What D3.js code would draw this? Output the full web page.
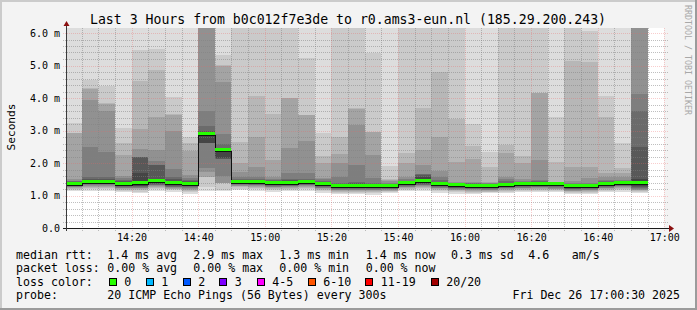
<!DOCTYPE html>
<html>
<head>
<meta charset="utf-8">
<script src="https://cdn.jsdelivr.net/npm/d3@7"></script>
<style>
	body { margin: 0; background: #f3f3f3; }
	svg { display: block; font-family: "DejaVu Sans Mono", monospace; }
</style>
</head>
<body>
<svg id="chart" width="697" height="310"></svg>
<script>
const title = "Last 3 Hours from b0c012f7e3de to r0.ams3-eun.nl (185.29.200.243)";

// start of each 5 minute step
const slots = [
	"14:00", "14:05", "14:10", "14:15", "14:20", "14:25", "14:30", "14:35", "14:40", "14:45",
	"14:50", "14:55", "15:00", "15:05", "15:10", "15:15", "15:20", "15:25", "15:30", "15:35",
	"15:40", "15:45", "15:50", "15:55", "16:00", "16:05", "16:10", "16:15", "16:20", "16:25",
	"16:30", "16:35", "16:40", "16:45", "16:50",
];

// median rtt per step (ms)
const median = [
	1.36, 1.42, 1.42, 1.35, 1.38, 1.45, 1.37, 1.36, 2.9, 2.4,
	1.43, 1.42, 1.38, 1.39, 1.42, 1.35, 1.29, 1.29, 1.29, 1.29,
	1.38, 1.45, 1.35, 1.31, 1.3, 1.28, 1.33, 1.35, 1.35, 1.35,
	1.28, 1.29, 1.35, 1.39, 1.39,
];

// lost pings per step
const loss = [
	0, 0, 0, 0, 0, 0, 0, 0, 0, 0, 0, 0, 0, 0, 0, 0, 0, 0,
	0, 0, 0, 0, 0, 0, 0, 0, 0, 0, 0, 0, 0, 0, 0, 0, 0,
];

// the 20 sorted ping times of each step (ms), the smoke
const pings = [
	[1.13, 1.17, 1.2, 1.23, 1.25, 1.27, 1.29, 1.31, 1.32, 1.34, 1.38, 1.4, 1.42, 1.44, 1.46, 1.5, 2.92, 2.93, 3.22, 8],
	[1.13, 1.2, 1.24, 1.27, 1.3, 1.32, 1.34, 1.36, 1.38, 1.4, 1.44, 1.48, 1.52, 1.58, 2.5, 3.94, 4.28, 4.3, 4.55, 8],
	[1.14, 1.19, 1.23, 1.26, 1.29, 1.32, 1.34, 1.36, 1.38, 1.4, 1.44, 1.47, 1.51, 1.58, 2.35, 3.6, 3.82, 3.84, 4.38, 8],
	[1.1, 1.14, 1.17, 1.2, 1.22, 1.24, 1.26, 1.28, 1.3, 1.32, 1.38, 1.41, 1.44, 1.48, 1.53, 1.6, 2.25, 2.61, 3.07, 8],
	[1.08, 1.12, 1.17, 1.2, 1.22, 1.24, 1.26, 1.28, 1.3, 1.32, 1.44, 1.68, 2.17, 2.18, 2.19, 2.42, 3.04, 4.52, 5.48, 8],
	[1.15, 1.2, 1.24, 1.27, 1.29, 1.31, 1.33, 1.35, 1.38, 1.42, 1.48, 1.5, 1.93, 1.94, 2.07, 2.4, 3.43, 4.86, 5.51, 8],
	[1.12, 1.16, 1.19, 1.21, 1.23, 1.25, 1.27, 1.29, 1.31, 1.34, 1.4, 1.45, 1.5, 1.56, 1.82, 2.98, 3.49, 3.5, 4.04, 8],
	[1.05, 1.11, 1.15, 1.18, 1.21, 1.23, 1.26, 1.28, 1.31, 1.34, 1.38, 1.41, 1.44, 1.48, 1.55, 1.63, 2.38, 2.61, 2.79, 8],
	[1.15, 1.27, 1.56, 1.58, 1.71, 1.84, 2.61, 2.62, 2.63, 2.87, 2.93, 2.96, 3.0, 3.14, 3.61, 8, 8, 8, 8, 8],
	[1.15, 1.17, 1.38, 1.39, 1.4, 1.6, 2.12, 2.13, 2.14, 2.38, 2.42, 2.43, 2.45, 2.57, 2.89, 4.5, 5.0, 5.02, 5.32, 8],
	[1.16, 1.21, 1.25, 1.28, 1.3, 1.32, 1.34, 1.36, 1.38, 1.41, 1.45, 1.47, 1.49, 1.52, 1.58, 1.73, 1.99, 2.66, 8, 8],
	[1.15, 1.2, 1.24, 1.27, 1.29, 1.31, 1.33, 1.35, 1.37, 1.4, 1.44, 1.46, 1.49, 1.52, 1.58, 1.89, 2.81, 4.06, 8, 8],
	[1.12, 1.17, 1.2, 1.23, 1.25, 1.27, 1.29, 1.31, 1.33, 1.36, 1.4, 1.42, 1.45, 1.48, 1.52, 1.58, 2.09, 3.51, 8, 8],
	[1.13, 1.18, 1.21, 1.24, 1.26, 1.28, 1.3, 1.32, 1.34, 1.37, 1.41, 1.44, 1.47, 1.5, 1.69, 2.46, 3.99, 4.0, 8, 8],
	[1.14, 1.2, 1.24, 1.27, 1.29, 1.31, 1.33, 1.35, 1.37, 1.4, 1.44, 1.46, 1.48, 1.5, 1.7, 2.68, 3.48, 3.49, 5.22, 8],
	[1.09, 1.14, 1.17, 1.2, 1.22, 1.24, 1.26, 1.28, 1.3, 1.33, 1.37, 1.38, 1.41, 1.45, 1.5, 1.55, 1.99, 2.22, 2.93, 8],
	[1.05, 1.09, 1.12, 1.14, 1.16, 1.18, 1.2, 1.22, 1.24, 1.27, 1.31, 1.33, 1.35, 1.38, 1.58, 2.0, 2.28, 2.79, 8, 8],
	[1.06, 1.09, 1.12, 1.14, 1.16, 1.18, 1.2, 1.22, 1.24, 1.27, 1.31, 1.34, 1.38, 1.43, 1.94, 3.17, 3.67, 3.68, 8, 8],
	[1.02, 1.07, 1.11, 1.14, 1.16, 1.18, 1.2, 1.22, 1.24, 1.27, 1.31, 1.33, 1.35, 1.37, 1.53, 2.25, 2.95, 2.96, 5.39, 8],
	[1.07, 1.1, 1.13, 1.15, 1.17, 1.19, 1.21, 1.23, 1.25, 1.27, 1.31, 1.32, 1.34, 1.36, 1.4, 1.45, 1.49, 1.5, 1.92, 8],
	[1.13, 1.17, 1.2, 1.23, 1.25, 1.27, 1.29, 1.31, 1.33, 1.36, 1.4, 1.42, 1.44, 1.46, 1.5, 1.56, 2.0, 2.32, 8, 8],
	[1.14, 1.2, 1.24, 1.27, 1.29, 1.31, 1.33, 1.35, 1.38, 1.42, 1.48, 1.56, 1.64, 1.65, 1.66, 1.94, 2.4, 3.68, 8, 8],
	[1.09, 1.14, 1.17, 1.2, 1.22, 1.24, 1.26, 1.28, 1.3, 1.33, 1.37, 1.4, 1.43, 1.47, 1.58, 1.76, 2.81, 4.79, 8, 8],
	[1.06, 1.1, 1.13, 1.16, 1.18, 1.2, 1.22, 1.24, 1.26, 1.29, 1.33, 1.34, 1.36, 1.38, 1.4, 1.43, 2.04, 3.35, 8, 8],
	[1.05, 1.09, 1.12, 1.15, 1.17, 1.19, 1.21, 1.23, 1.25, 1.28, 1.32, 1.33, 1.35, 1.37, 1.4, 1.43, 2.11, 2.52, 3.2, 8],
	[1.07, 1.1, 1.12, 1.14, 1.16, 1.18, 1.2, 1.22, 1.24, 1.26, 1.3, 1.31, 1.33, 1.35, 1.37, 1.4, 1.43, 1.89, 2.35, 8],
	[1.08, 1.12, 1.15, 1.18, 1.2, 1.22, 1.24, 1.26, 1.28, 1.31, 1.35, 1.37, 1.4, 1.44, 1.5, 1.56, 2.32, 2.55, 8, 8],
	[1.1, 1.14, 1.17, 1.2, 1.22, 1.24, 1.26, 1.28, 1.3, 1.33, 1.37, 1.38, 1.4, 1.42, 1.45, 1.5, 2.01, 2.22, 8, 8],
	[1.1, 1.14, 1.18, 1.21, 1.23, 1.25, 1.27, 1.29, 1.31, 1.33, 1.37, 1.39, 1.41, 1.44, 1.48, 2.09, 4.15, 4.16, 8, 8],
	[1.1, 1.13, 1.16, 1.19, 1.21, 1.23, 1.26, 1.28, 1.31, 1.34, 1.36, 1.37, 1.38, 1.39, 1.4, 1.41, 1.43, 2.04, 3.41, 8],
	[1.04, 1.08, 1.11, 1.13, 1.15, 1.17, 1.19, 1.21, 1.23, 1.26, 1.3, 1.31, 1.33, 1.36, 1.4, 1.45, 1.89, 5.15, 8, 8],
	[1.05, 1.09, 1.12, 1.14, 1.16, 1.18, 1.2, 1.22, 1.24, 1.27, 1.3, 1.31, 1.33, 1.35, 1.38, 1.54, 1.89, 5.12, 6.07, 8],
	[1.1, 1.14, 1.17, 1.2, 1.22, 1.24, 1.26, 1.28, 1.3, 1.33, 1.37, 1.39, 1.41, 1.44, 1.48, 1.56, 1.7, 3.43, 4.06, 8],
	[1.12, 1.17, 1.21, 1.24, 1.26, 1.28, 1.3, 1.32, 1.34, 1.38, 1.4, 1.41, 1.43, 1.45, 1.48, 1.56, 1.68, 1.86, 2.63, 8],
	[1.09, 1.12, 1.14, 1.16, 1.18, 1.2, 1.22, 1.25, 1.3, 1.36, 1.42, 1.5, 2.5, 3.61, 4.12, 8, 8, 8, 8, 8],
];

const yTicks = [0, 1, 2, 3, 4, 5, 6];

const lossLabels = ["0", "1", "2", "3", "4-5", "6-10", "11-19", "20/20"];
const lossColors = ["#26ff00", "#00b8ff", "#0059ff", "#7e00ff", "#ff00ff", "#ff5500", "#ff0000", "#a10000"];

const medianStats = ["1.4 ms avg", "2.9 ms max", "1.3 ms min", "1.4 ms now", "0.3 ms sd", "4.6", "am/s"];
const lossStats = ["0.00 % avg", "0.00 % max", "0.00 % min", "0.00 % now"];
const probeText = "20 ICMP Echo Pings (56 Bytes) every 300s";
const stamp = "Fri Dec 26 17:00:30 2025";

const svg = d3.select("#chart");
const width = +svg.attr("width");
const height = +svg.attr("height");

const parseSlot = (s) => {
	const [h, m] = s.split(":").map(Number);
	return new Date(Date.UTC(2025, 11, 26, h, m));
};
const times = slots.map(parseSlot);
const tStart = parseSlot("14:00");
const tEnd = parseSlot("17:00");

const plot = { left: 67, right: 664, top: 28, bottom: 228 };

const x = d3.scaleUtc().domain([tStart, tEnd]).range([65, 664.3]);
const y = d3.scaleLinear().domain([0, 6]).range([228, 33]);
const px = (d) => Math.round(x(d));
const py = (v) => Math.round(y(v));

// background + 3d frame
svg.append("rect").attr("width", width).attr("height", height).attr("fill", "#f3f3f3");
svg.append("path").attr("d", `M0,${height} V0 H${width}`).attr("stroke", "#cbcbcb").attr("stroke-width", 4).attr("fill", "none");
svg.append("path").attr("d", `M0,${height} H${width} V0`).attr("stroke", "#9b9b9b").attr("stroke-width", 4).attr("fill", "none");

svg.append("rect")
	.attr("x", plot.left).attr("y", plot.top)
	.attr("width", plot.right - plot.left).attr("height", plot.bottom - plot.top)
	.attr("fill", "#ffffff");

svg.append("clipPath").attr("id", "plotclip")
	.append("rect")
	.attr("x", plot.left).attr("y", plot.top)
	.attr("width", plot.right - plot.left).attr("height", plot.bottom - plot.top);

// smoke: band k goes from ping k to ping 21-k, darker towards the middle
const half = 10;
const smokeColor = (k) => {
	const c = Math.floor((190 / half) * (half - k)) + 50;
	return d3.rgb(c, c, c).formatHex();
};

const smoke = svg.append("g").attr("clip-path", "url(#plotclip)").attr("shape-rendering", "crispEdges");
times.forEach((t, i) => {
	const x0 = px(t);
	const x1 = px(d3.utcMinute.offset(t, 5));
	for (let k = 1; k <= half; k++) {
		const lo = pings[i][k - 1];
		const hi = pings[i][20 - k];
		smoke.append("rect")
			.attr("x", x0).attr("width", x1 - x0)
			.attr("y", py(hi)).attr("height", Math.max(0, py(lo) - py(hi)))
			.attr("fill", smokeColor(k));
	}
});

// grid
const grid = svg.append("g").attr("shape-rendering", "crispEdges").attr("stroke-dasharray", "1,1");
const minorY = y.ticks(30).filter((v) => v > 0 && Math.abs(v - Math.round(v)) > 1e-6);
const majorY = yTicks.filter((v) => v > 0);
const fiveMin = x.ticks(d3.utcMinute.every(5)).filter((d) => d > tStart);
const minorX = fiveMin.filter((d) => d.getUTCMinutes() % 20 !== 0);
const majorX = fiveMin.filter((d) => d.getUTCMinutes() % 20 === 0);
const minorStroke = "rgba(128,128,128,0.5)";
const majorStroke = "rgba(235,100,100,0.32)";

grid.selectAll(".hminor").data(minorY).join("line")
	.attr("x1", plot.left - 4).attr("x2", plot.right + 5)
	.attr("y1", (v) => py(v) + 0.5).attr("y2", (v) => py(v) + 0.5)
	.attr("stroke", minorStroke);
grid.selectAll(".vminor").data(minorX).join("line")
	.attr("x1", (d) => px(d) + 0.5).attr("x2", (d) => px(d) + 0.5)
	.attr("y1", plot.top).attr("y2", plot.bottom + 3)
	.attr("stroke", minorStroke);
grid.selectAll(".hmajor").data(majorY).join("line")
	.attr("x1", plot.left - 4).attr("x2", plot.right + 5)
	.attr("y1", (v) => py(v) + 0.5).attr("y2", (v) => py(v) + 0.5)
	.attr("stroke", majorStroke);
grid.selectAll(".vmajor").data(majorX).join("line")
	.attr("x1", (d) => px(d) + 0.5).attr("x2", (d) => px(d) + 0.5)
	.attr("y1", plot.top).attr("y2", plot.bottom + 3)
	.attr("stroke", majorStroke);

// median: dark step line and loss coloured bar on top
const stepPts = times.map((t, i) => [px(t), py(median[i]) + 1.5]);
stepPts.push([px(d3.utcMinute.offset(times[times.length - 1], 5)), py(median[median.length - 1]) + 1.5]);
svg.append("path")
	.attr("clip-path", "url(#plotclip)")
	.attr("d", d3.line().curve(d3.curveStepAfter)(stepPts))
	.attr("fill", "none").attr("stroke", "#101010").attr("stroke-width", 1)
	.attr("shape-rendering", "crispEdges");

svg.append("g").attr("clip-path", "url(#plotclip)").attr("shape-rendering", "crispEdges")
	.selectAll("rect").data(times).join("rect")
	.attr("x", (t) => px(t))
	.attr("width", (t) => px(d3.utcMinute.offset(t, 5)) - px(t))
	.attr("y", (t, i) => py(median[i]) - 2)
	.attr("height", 3)
	.attr("fill", (t, i) => lossColors[loss[i]]);

// axes
svg.append("path")
	.attr("d", `M${plot.left - 0.5 - 4},${plot.bottom + 0.5} H${plot.right + 6}`)
	.attr("stroke", "#1a1a1a").attr("shape-rendering", "crispEdges");
svg.append("path")
	.attr("d", `M${plot.left - 0.5},${plot.bottom + 3} V${plot.top - 5}`)
	.attr("stroke", "#3a3a3a").attr("shape-rendering", "crispEdges");
svg.append("path")
	.attr("d", `M${plot.right + 5},${plot.bottom - 3} L${plot.right + 10},${plot.bottom + 0.5} L${plot.right + 5},${plot.bottom + 4} Z`)
	.attr("fill", "#8b1010");
svg.append("path")
	.attr("d", `M${plot.left - 3.5},${plot.top - 2} L${plot.left - 0.5},${plot.top - 7} L${plot.left + 2.5},${plot.top - 2} Z`)
	.attr("fill", "#8b1010");

const yAxis = svg.append("g")
	.attr("transform", `translate(${plot.left},0)`)
	.call(d3.axisLeft(y).tickValues(yTicks).tickSize(0).tickPadding(7)
		.tickFormat((v) => (v === 0 ? "0.0" : `${v.toFixed(1)} m`)));
yAxis.select(".domain").remove();
yAxis.selectAll("text").attr("font-family", "DejaVu Sans Mono").attr("font-size", 10).attr("fill", "#000");

const xAxis = svg.append("g")
	.attr("transform", `translate(0,${plot.bottom})`)
	.call(d3.axisBottom(x).tickValues(majorX).tickSize(0).tickPadding(6)
		.tickFormat(d3.utcFormat("%H:%M")));
xAxis.select(".domain").remove();
xAxis.selectAll("text").attr("font-family", "DejaVu Sans Mono").attr("font-size", 10).attr("fill", "#000");

// title, unit, watermark
svg.append("text")
	.attr("x", 348).attr("y", 24).attr("text-anchor", "middle")
	.attr("font-size", 13.2).text(title);

svg.append("text")
	.attr("transform", "translate(15,127) rotate(-90)")
	.attr("text-anchor", "middle").attr("font-size", 11.2).text("Seconds");

svg.append("text")
	.attr("transform", "translate(685,5) rotate(90)")
	.attr("font-size", 8.3).attr("fill", "#a8a8a8")
	.text("RRDTOOL / TOBI OETIKER");

// legend
const legend = svg.append("g").attr("font-size", 11.6).attr("fill", "#000");
const rows = [258.5, 272, 285.7, 299.3];
const col1 = 16;
const col2 = 107.3;

legend.append("text").attr("x", col1).attr("y", rows[0]).text("median rtt:");
const medianX = [107.3, 193.3, 279.3, 365.7, 451, 528.3, 571.7];
medianStats.forEach((s, i) => {
	legend.append("text").attr("x", medianX[i]).attr("y", rows[0]).text(s);
});

legend.append("text").attr("x", col1).attr("y", rows[1]).text("packet loss:");
lossStats.forEach((s, i) => {
	legend.append("text").attr("x", medianX[i]).attr("y", rows[1]).text(s);
});

legend.append("text").attr("x", col1).attr("y", rows[2]).text("loss color:");
const boxX = [108.7, 145.7, 182.7, 219.3, 256.7, 307.7, 365.3, 430.7];
lossLabels.forEach((s, i) => {
	legend.append("rect")
		.attr("x", Math.round(boxX[i]) + 0.5).attr("y", 278.5)
		.attr("width", 7).attr("height", 7)
		.attr("fill", lossColors[i]).attr("stroke", "#000");
	legend.append("text").attr("x", boxX[i] + 15.5).attr("y", rows[2]).text(s);
});

legend.append("text").attr("x", col1).attr("y", rows[3]).text("probe:");
legend.append("text").attr("x", col2).attr("y", rows[3]).text(probeText);
legend.append("text").attr("x", 680).attr("y", rows[3]).attr("text-anchor", "end").text(stamp);
</script>
</body>
</html>
